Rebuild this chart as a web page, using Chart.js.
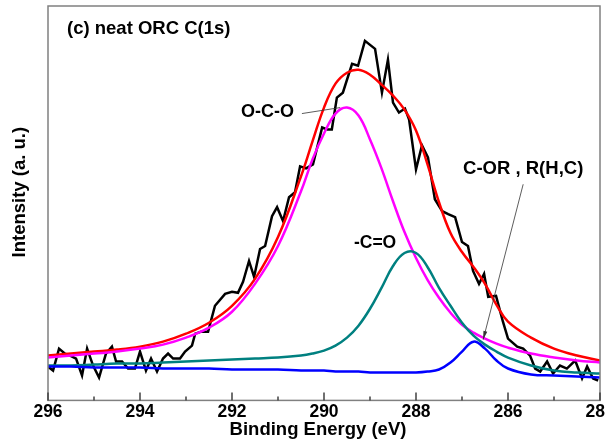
<!DOCTYPE html>
<html>
<head>
<meta charset="utf-8">
<script src="https://cdn.jsdelivr.net/npm/chart.js@4.4.1/dist/chart.umd.min.js"></script>
<style>
html, body { margin: 0; padding: 0; background: #fff; }
canvas { display: block; }
</style>
</head>
<body>
<canvas id="xps" width="605" height="439"></canvas>
<script>
// raw C(1s) spectrum
const rawBE = [296.00, 295.89, 295.76, 295.63, 295.52, 295.39, 295.26, 295.15, 295.02, 294.89,
  294.74, 294.61, 294.52, 294.39, 294.26, 294.11, 294.00, 293.87, 293.76, 293.63,
  293.50, 293.39, 293.28, 293.13, 293.02, 292.87, 292.80, 292.67, 292.52, 292.37,
  292.15, 292.00, 291.87, 291.76, 291.63, 291.52, 291.39, 291.28, 291.13, 291.02,
  290.89, 290.76, 290.63, 290.52, 290.39, 290.24, 290.04, 289.93, 289.83, 289.72,
  289.59, 289.39, 289.26, 289.11, 288.89, 288.74, 288.61, 288.50, 288.37, 288.24,
  288.15, 288.00, 287.87, 287.74, 287.59, 287.43, 287.30, 287.15, 287.00, 286.87,
  286.76, 286.63, 286.52, 286.43, 286.26, 286.11, 286.00, 285.80, 285.67, 285.52,
  285.41, 285.30, 285.15, 285.02, 284.87, 284.72, 284.54, 284.39, 284.28, 284.15, 284.04];
const rawCounts = [34, 30, 52, 47, 45, 42, 25, 52, 35, 23,
  47, 54, 39, 39, 32, 32, 49, 30, 42, 29,
  42, 47, 42, 42, 49, 55, 67, 69, 69, 95,
  107, 109, 108, 119, 140, 124, 152, 155, 185, 194,
  180, 204, 209, 235, 233, 237, 274, 272, 272, 304,
  309, 338, 336, 361, 353, 309, 342, 299, 289, 293,
  282, 232, 256, 244, 202, 190, 187, 184, 159, 155,
  130, 117, 127, 104, 105, 79, 62, 54, 52, 45,
  32, 29, 39, 27, 35, 32, 40, 22, 34, 22, 20];

// fitted curves share one energy grid
const fitBE = [296, 295.5, 295, 294.5, 294, 293.5, 293, 292.5, 292, 291.5, 291, 290.5, 290.25,
  290, 289.75, 289.5, 289.25, 289, 288.75, 288.5, 288.25, 288, 287.75, 287.5, 287.25,
  287, 286.75, 286.5, 286.25, 286, 285.5, 285, 284.5, 284];
const envelope = [45, 47, 49, 51, 54, 59, 67, 78, 95, 122, 164, 225, 260,
  294, 318, 329, 332, 327, 317, 306, 292, 271, 237, 199, 168,
  149, 134, 117, 96, 79, 63, 52, 45, 40];
const ocoPeak = [43, 45, 47, 49, 52, 56, 63, 73, 89, 117, 155, 210, 242,
  268, 288, 294, 286, 262, 233, 200, 169, 143, 121, 103, 88,
  76, 68, 62, 57, 53, 47, 43, 40, 38];
const coPeak = [35, 35, 36, 37, 37, 38, 39, 40, 41, 42, 43, 45, 47,
  50, 55, 63, 75, 92, 113, 135, 148, 148, 134, 113, 95,
  78, 65, 56, 49, 43, 35, 30, 28, 27];
const corPeak = [34, 34, 33, 33, 33, 32, 32, 32, 31, 31, 31, 30, 30,
  30, 29, 29, 29, 28, 28, 28, 28, 28, 29, 31, 38,
  49, 59, 52, 40, 32, 26, 25, 24, 23];

const tickLabels = [296, 294, 292, 290, 288, 286, 284];

const notes = [
  { text: "O-C-O", be: 290.65, val: 289.5, align: "right", size: 18 },
  { text: "-C=O", be: 288.89, val: 158, align: "center", size: 17.5 },
  { text: "C-OR , R(H,C)", be: 285.67, val: 232, align: "center", size: 18.5 }
];
const leaders = [
  { from: [290.48, 288], to: [289.65, 294], arrow: false },
  { from: [285.67, 217], to: [286.54, 61], arrow: true }
];

const FONT = '"Liberation Sans", Arial, sans-serif';

function pts(xs, ys) {
  return xs.map((v, i) => ({ x: v, y: ys[i] }));
}

function fitLine(values, color) {
  return {
    data: pts(fitBE, values),
    borderColor: color,
    borderWidth: 2.5,
    pointRadius: 0,
    tension: 0.4,
    fill: false
  };
}

const decor = {
  id: "decor",
  afterDatasetsDraw(chart) {
    const { ctx, chartArea: a, scales: { x, y } } = chart;
    ctx.save();

    ctx.strokeStyle = "#808080";
    ctx.lineWidth = 1.5;
    ctx.strokeRect(a.left, a.top, a.right - a.left, a.bottom - a.top);

    // ticks point inwards
    ctx.strokeStyle = "#404040";
    for (let v = 284; v <= 296; v++) {
      const px = x.getPixelForValue(v);
      const len = tickLabels.includes(v) ? 8 : 4;
      ctx.beginPath();
      ctx.moveTo(px, a.bottom);
      ctx.lineTo(px, a.bottom - len);
      ctx.stroke();
    }

    ctx.fillStyle = "#000";
    ctx.font = "bold 18.5px " + FONT;
    ctx.textBaseline = "middle";

    ctx.textAlign = "left";
    ctx.fillText("(c) neat ORC C(1s)", a.left + 19, a.top + 22.5);

    ctx.textAlign = "center";
    ctx.fillText("Binding Energy (eV)", (a.left + a.right) / 2 - 6, 430);

    ctx.save();
    ctx.translate(20, (a.top + a.bottom) / 2 - 11);
    ctx.rotate(-Math.PI / 2);
    ctx.fillText("Intensity (a. u.)", 0, 0);
    ctx.restore();

    notes.forEach(n => {
      ctx.font = "bold " + n.size + "px " + FONT;
      ctx.textAlign = n.align;
      ctx.fillText(n.text, x.getPixelForValue(n.be), y.getPixelForValue(n.val));
    });

    ctx.strokeStyle = "#333";
    ctx.fillStyle = "#333";
    ctx.lineWidth = 0.8;
    leaders.forEach(l => {
      const x0 = x.getPixelForValue(l.from[0]), y0 = y.getPixelForValue(l.from[1]);
      const x1 = x.getPixelForValue(l.to[0]), y1 = y.getPixelForValue(l.to[1]);
      ctx.beginPath();
      ctx.moveTo(x0, y0);
      ctx.lineTo(x1, y1);
      ctx.stroke();
      if (l.arrow) {
        const ang = Math.atan2(y1 - y0, x1 - x0);
        ctx.beginPath();
        ctx.moveTo(x1, y1);
        ctx.lineTo(x1 - 9 * Math.cos(ang - 0.22), y1 - 9 * Math.sin(ang - 0.22));
        ctx.lineTo(x1 - 9 * Math.cos(ang + 0.22), y1 - 9 * Math.sin(ang + 0.22));
        ctx.closePath();
        ctx.fill();
      }
    });

    ctx.restore();
  }
};

new Chart(document.getElementById("xps"), {
  type: "line",
  data: {
    datasets: [
      fitLine(corPeak, "#0000ff"),
      fitLine(coPeak, "#008080"),
      fitLine(ocoPeak, "#ff00ff"),
      fitLine(envelope, "#ff0000"),
      {
        data: pts(rawBE, rawCounts),
        borderColor: "#000",
        borderWidth: 2.5,
        pointRadius: 0,
        tension: 0,
        fill: false
      }
    ]
  },
  options: {
    responsive: false,
    animation: false,
    devicePixelRatio: 1,
    layout: { padding: { left: 48, right: 5, top: 6, bottom: 15.6 } },
    plugins: { legend: { display: false }, tooltip: { enabled: false } },
    scales: {
      x: {
        type: "linear",
        reverse: true,
        min: 284,
        max: 296,
        grid: { display: false, drawTicks: false },
        border: { display: false },
        ticks: {
          stepSize: 1,
          autoSkip: false,
          maxRotation: 0,
          padding: 1,
          color: "#000",
          font: { family: FONT, size: 17.5, weight: "bold" },
          callback: v => tickLabels.includes(v) ? String(v) : ""
        },
        afterFit(scale) {
          scale.paddingLeft = 0;
          scale.paddingRight = 0;
        }
      },
      y: {
        display: false,
        min: 0,
        max: 396
      }
    }
  },
  plugins: [decor]
});
</script>
</body>
</html>
